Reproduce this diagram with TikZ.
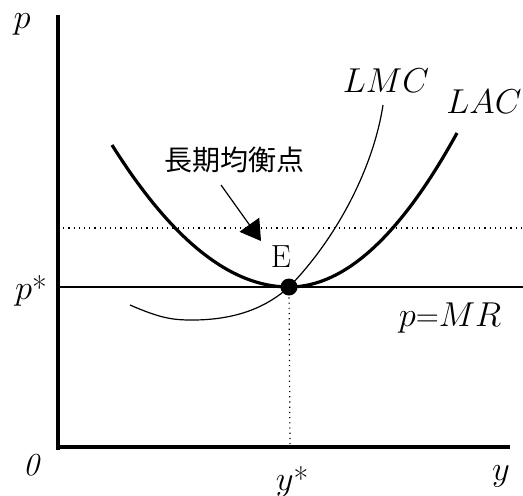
\documentclass[tikz,border=0pt]{standalone}
\usepackage{amsmath,amssymb}
\usepackage{xcolor}
\usepackage{fontspec}
\newfontfamily\cjk{Noto Sans CJK JP}
\usepackage{tikz}
\usetikzlibrary{arrows.meta}

\begin{document}
\begin{tikzpicture}[
    x=0.5pt, y=-0.5pt,
    every node/.style={inner sep=0pt,font=\fontsize{16}{18}\selectfont},
    axis/.style={line width=1.6pt},
    guide/.style={dotted,line width=0.6pt},
    thick curve/.style={line width=1.6pt},
    thin curve/.style={line width=0.6pt}
  ]
    \useasboundingbox (0,0) rectangle (523,495);

    % axes
    \coordinate (O)  at (58,447);
    \coordinate (ytop) at (58,15);
    \coordinate (xend) at (510,447);
    \draw[axis] (ytop) -- (58,450) (O) -- (xend);

    % price lines
    \coordinate (pl) at (56,287);
    \coordinate (pr) at (523,287);
    \coordinate (dl) at (58,228);
    \coordinate (dr) at (523,228);
    \draw[thin curve] (pl) -- (pr);
    \draw[guide] (dl) -- (dr);

    % equilibrium point
    \node (E) at (289,287) [circle,fill,minimum size=8.5pt] {};
    \coordinate (ys) at (290,447);
    \draw[guide] (E.center) -- (ys);

    % LAC
    \draw[thick curve] (112,145) .. controls (171,239) and (230,287) .. (E.center)
      .. controls (345,287) and (401,235) .. (457,133);
    % LMC
    \draw[thin curve] (130,305) .. controls (160,318) and (172,320) .. (192,320)
      .. controls (238,320) and (268,306) .. (E.center)
      .. controls (335,240) and (373,170) .. (383,105);

    % labels
    \node (p)   at (22,24)   {$p$};
    \node (ps)  at (31,291)  {$p$*};
    \node (o)   at (31,465)  {$\mathit{0}$};
    \node (ysl) at (292,482) {$y$*};
    \node (y)   at (501,476) {$y$};
    \node (mr)  at (450,318) {$p$=$MR$};
    \node (lmc) at (386,81)  {$LMC$};
    \node (lac) at (484,102) {$LAC$};
    \node (el)  at (281,257) {E};
    \node (eq)  at (234,160) {\cjk\fontsize{14}{16}\selectfont 長期均衡点};

    \coordinate (tail) at (221,185);
    \coordinate (tip)  at (261,241);
    \draw[thin curve,-{Triangle[length=10pt,width=12pt]}] (tail) -- (tip);
  \end{tikzpicture}
\end{document}
